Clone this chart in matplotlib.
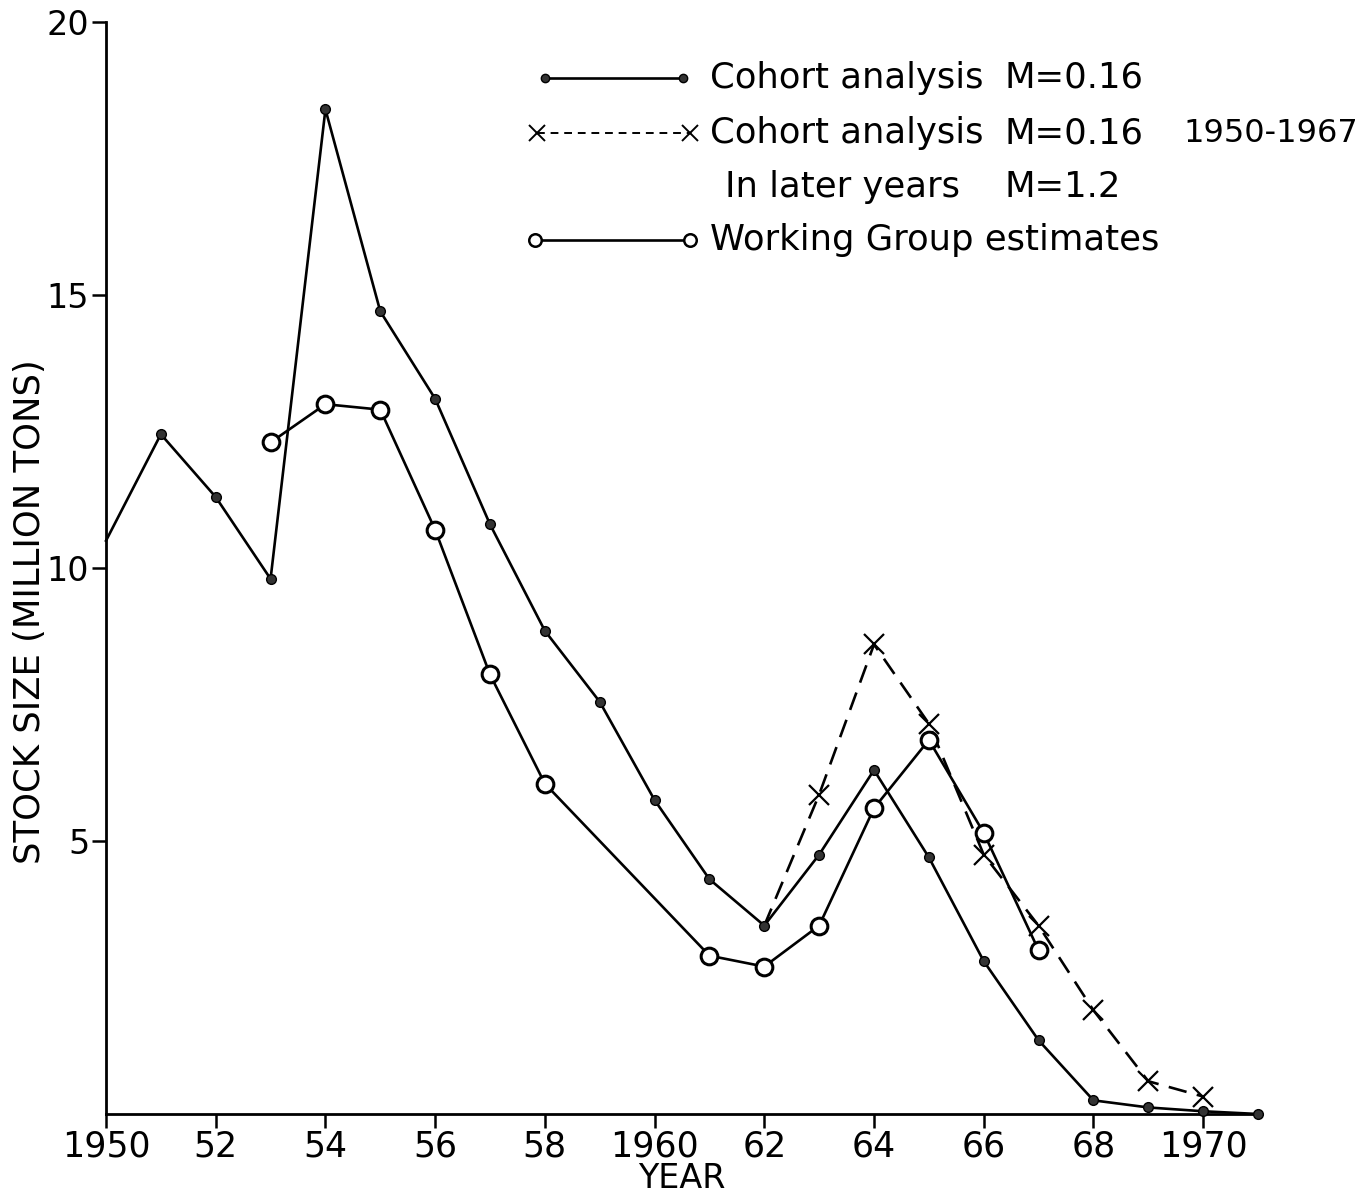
import matplotlib
matplotlib.use("Agg")
import matplotlib.pyplot as plt
from matplotlib.lines import Line2D

plt.rcParams['font.family'] = ['DejaVu Sans']

# Cohort analysis M=0.16 (solid, small dots)
cohort_years = [1950, 1951, 1952, 1953, 1954, 1955, 1956, 1957, 1958, 1959, 1960,
                1961, 1962, 1963, 1964, 1965, 1966, 1967, 1968, 1969, 1970, 1971]
cohort_vals = [10.5, 12.45, 11.3, 9.8, 18.4, 14.7, 13.1, 10.8, 8.85, 7.55, 5.75,
               4.3, 3.45, 4.75, 6.3, 4.7, 2.8, 1.35, 0.25, 0.12, 0.05, 0.0]

# Cohort analysis M=0.16 1950-1967, later years M=1.2 (dashed, crosses)
later_years = [1962, 1963, 1964, 1965, 1966, 1967, 1968, 1969, 1970]
later_vals = [3.45, 5.85, 8.6, 7.15, 4.75, 3.45, 1.9, 0.6, 0.32]

# Working Group estimates (open circles)
wg_years = [1953, 1954, 1955, 1956, 1957, 1958, 1961, 1962, 1963, 1964, 1965, 1966, 1967]
wg_vals = [12.3, 13.0, 12.9, 10.7, 8.05, 6.05, 2.9, 2.7, 3.45, 5.6, 6.85, 5.15, 3.0]

xtick_pos = [1950, 1952, 1954, 1956, 1958, 1960, 1962, 1964, 1966, 1968, 1970]
xtick_lab = ['1950', '52', '54', '56', '58', '1960', '62', '64', '66', '68', '1970']
ytick_pos = [5, 10, 15, 20]

W, H = 1372, 1196
fig = plt.figure(figsize=(W / 100, H / 100), dpi=100)
ax = fig.add_axes([106 / W, 82 / H, 1152 / W, 1092 / H])

lw = 1.9
ax.plot(cohort_years, cohort_vals, color='black', lw=lw, marker='o', ms=7,
        mfc='#333333', markevery=list(range(1, len(cohort_years))), clip_on=False, zorder=3)
ax.plot(later_years, later_vals, color='black', lw=lw, ls=(0, (7, 4)), marker='x',
        ms=14, mew=1.6, markevery=list(range(1, len(later_years))), clip_on=False, zorder=2)
ax.plot(wg_years, wg_vals, color='black', lw=lw, marker='o', ms=12, mew=2.2,
        mfc='white', clip_on=False, zorder=4)

ax.set_xlim(1950, 1971)
ax.set_ylim(0, 20)
ax.spines['top'].set_visible(False)
ax.spines['right'].set_visible(False)
ax.spines['left'].set_linewidth(2)
ax.spines['bottom'].set_linewidth(2)

ax.set_xticks(xtick_pos)
ax.set_xticklabels(xtick_lab)
ax.set_yticks(ytick_pos)
ax.tick_params(axis='both', direction='out', length=10, width=1.8, color='black')
ax.tick_params(axis='x', labelsize=25, pad=1)
ax.tick_params(axis='y', labelsize=24, pad=2)

ax.set_xlabel('YEAR', fontsize=24, labelpad=-1)
ax.set_ylabel('STOCK SIZE (MILLION TONS)', fontsize=25.5)
ax.yaxis.set_label_coords(-0.051, 0.46)


# legend drawn by hand (pixel positions of the original figure)
def fx(px):
    return px / W


def fy(py):
    return 1 - py / H


leg_fs = 25.5
fig.add_artist(Line2D([fx(545), fx(683)], [fy(78), fy(78)], color='black', lw=lw,
                      marker='o', ms=6, mfc='#333333'))
fig.text(fx(710), fy(78), 'Cohort analysis', fontsize=leg_fs, va='center')
fig.text(fx(1005), fy(78), 'M=0.16', fontsize=leg_fs, va='center')

fig.add_artist(Line2D([fx(537), fx(690)], [fy(133), fy(133)], color='black', lw=1.4,
                      ls=(0, (4, 3)), marker='x', ms=11, mew=1.4))
fig.text(fx(710), fy(133), 'Cohort analysis', fontsize=leg_fs, va='center')
fig.text(fx(1005), fy(133), 'M=0.16', fontsize=leg_fs, va='center')
fig.text(fx(1183), fy(133), '1950-1967', fontsize=23, va='center')
fig.text(fx(725), fy(187), 'In later years', fontsize=leg_fs, va='center')
fig.text(fx(1005), fy(187), 'M=1.2', fontsize=leg_fs, va='center')

fig.add_artist(Line2D([fx(535), fx(690)], [fy(240), fy(240)], color='black', lw=lw,
                      marker='o', ms=9, mew=1.8, mfc='white'))
fig.text(fx(710), fy(240), 'Working Group estimates', fontsize=leg_fs, va='center')

fig.savefig('out.png', dpi=100)
